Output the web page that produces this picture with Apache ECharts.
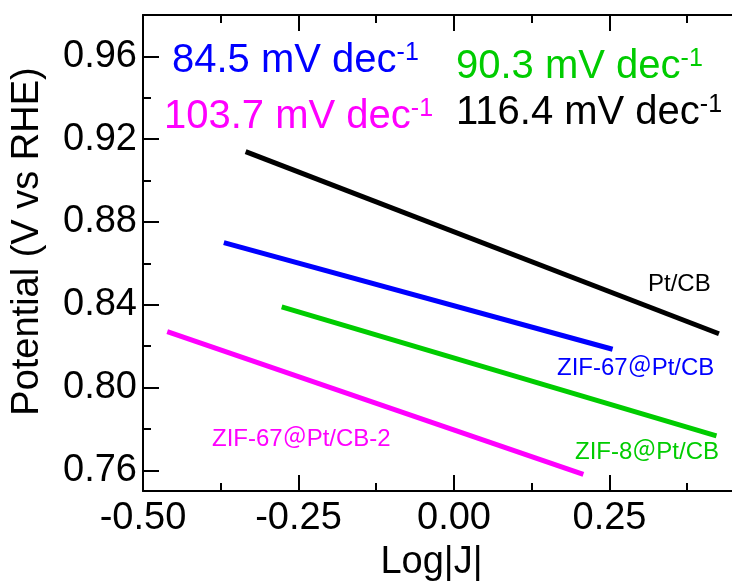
<!DOCTYPE html>
<html>
<head>
<meta charset="utf-8">
<script src="https://cdn.jsdelivr.net/npm/echarts@6/dist/echarts.min.js"></script>
<style>
  html, body { margin: 0; padding: 0; background: #fff; }
  #tafel { width: 732px; height: 587px; }
</style>
</head>
<body>
<div id="tafel"></div>
<script>
// Tafel fits: log|J| vs potential, two end points per fitted line
var ptcbLogJ = [-0.335, 0.426];
var ptcbPotential = [0.914, 0.826];
var zif67LogJ = [-0.370, 0.255];
var zif67Potential = [0.870, 0.8185];
var zif8LogJ = [-0.277, 0.422];
var zif8Potential = [0.839, 0.7766];
var zif67b2LogJ = [-0.461, 0.208];
var zif67b2Potential = [0.827, 0.758];

var seriesNames = ["Pt/CB", "ZIF-67\uFF20Pt/CB", "ZIF-8\uFF20Pt/CB", "ZIF-67\uFF20Pt/CB-2"];
var seriesColors = ["#000000", "#0000ff", "#00cc00", "#ff00ff"];
var tafelSlopes = ["116.4", "84.5", "90.3", "103.7"];

var xMajorTicks = [-0.5, -0.25, 0, 0.25];
var xMinorTicks = [-0.375, -0.125, 0.125, 0.375];
var yMajorTicks = [0.76, 0.80, 0.84, 0.88, 0.92, 0.96];
var yMinorTicks = [0.78, 0.82, 0.86, 0.90, 0.94];

var FONT = '"Liberation Sans", Arial, "Noto Sans CJK JP", sans-serif';

function pairs(xs, ys) {
  return xs.map(function (x, i) { return [x, ys[i]]; });
}

var chart = echarts.init(document.getElementById("tafel"));

function tickAxis(base, values, len, showLine) {
  return Object.assign({
    splitLine: { show: false },
    axisLine: { show: showLine, onZero: false, lineStyle: { color: "#000", width: 2 } },
    axisTick: { inside: true, length: len, customValues: values, lineStyle: { color: "#000", width: 2 } },
    axisLabel: { show: false }
  }, base);
}

var xRange = { type: "value", min: -0.5, max: 0.447 };
var yRange = { type: "value", min: 0.75, max: 0.98 };

var xBottom = tickAxis(Object.assign({ position: "bottom" }, xRange), xMajorTicks, 16, true);
xBottom.name = "Log|J|";
xBottom.nameLocation = "middle";
xBottom.nameGap = 53;
xBottom.nameTextStyle = { fontSize: 38, fontFamily: FONT, color: "#000", padding: [0, 12, 0, 0] };
xBottom.axisLabel = {
  fontSize: 38, fontFamily: FONT, color: "#000", margin: 9,
  customValues: xMajorTicks,
  formatter: function (v) { return v.toFixed(2); }
};

var yLeft = tickAxis(Object.assign({ position: "left" }, yRange), yMajorTicks, 16, true);
yLeft.name = "Potential (V vs RHE)";
yLeft.nameLocation = "middle";
yLeft.nameGap = 96;
yLeft.nameTextStyle = { fontSize: 38, fontFamily: FONT, color: "#000", padding: [0, 0, 0, 23] };
yLeft.axisLabel = {
  fontSize: 38, fontFamily: FONT, color: "#000", margin: 6,
  customValues: yMajorTicks,
  formatter: function (v) { return v.toFixed(2); }
};

function slopeText(value, color, x, y) {
  return {
    type: "text",
    x: x,
    y: y,
    style: {
      text: "{m|" + value + " mV dec}{s|-1}",
      verticalAlign: "middle",
      rich: {
        m: { fontSize: 40, fontFamily: FONT, fill: color },
        s: { fontSize: 25, fontFamily: FONT, fill: color, verticalAlign: "top" }
      }
    }
  };
}

function curveText(text, color, x, y) {
  return {
    type: "text",
    x: x,
    y: y,
    style: { text: text, fontSize: 24, fontFamily: FONT, fill: color, verticalAlign: "middle" }
  };
}

var option = {
  animation: false,
  backgroundColor: "#fff",
  grid: { left: 143, top: 15, right: 0, height: 476 },
  xAxis: [
    xBottom,
    tickAxis(Object.assign({ position: "bottom" }, xRange), xMinorTicks, 8, false),
    tickAxis(Object.assign({ position: "top" }, xRange), xMajorTicks, 16, true),
    tickAxis(Object.assign({ position: "top" }, xRange), xMinorTicks, 8, false)
  ],
  yAxis: [
    yLeft,
    tickAxis(Object.assign({ position: "left" }, yRange), yMinorTicks, 8, false)
  ],
  series: [
    pairs(ptcbLogJ, ptcbPotential),
    pairs(zif67LogJ, zif67Potential),
    pairs(zif8LogJ, zif8Potential),
    pairs(zif67b2LogJ, zif67b2Potential)
  ].map(function (data, i) {
    return {
      name: seriesNames[i],
      type: "line",
      xAxisIndex: 0,
      yAxisIndex: 0,
      data: data,
      symbol: "none",
      lineStyle: { color: seriesColors[i], width: 5, cap: "butt" }
    };
  }),
  graphic: [
    slopeText(tafelSlopes[1], seriesColors[1], 172, 61),
    slopeText(tafelSlopes[3], seriesColors[3], 164, 117),
    slopeText(tafelSlopes[2], seriesColors[2], 456, 67),
    slopeText(tafelSlopes[0], seriesColors[0], 456, 113),
    curveText(seriesNames[0], seriesColors[0], 648, 284),
    curveText(seriesNames[1], seriesColors[1], 557, 368),
    curveText(seriesNames[2], seriesColors[2], 575, 452),
    curveText(seriesNames[3], seriesColors[3], 212, 439)
  ]
};

chart.setOption(option);
window.addEventListener("resize", function () {
  chart.resize();
});
</script>
</body>
</html>
